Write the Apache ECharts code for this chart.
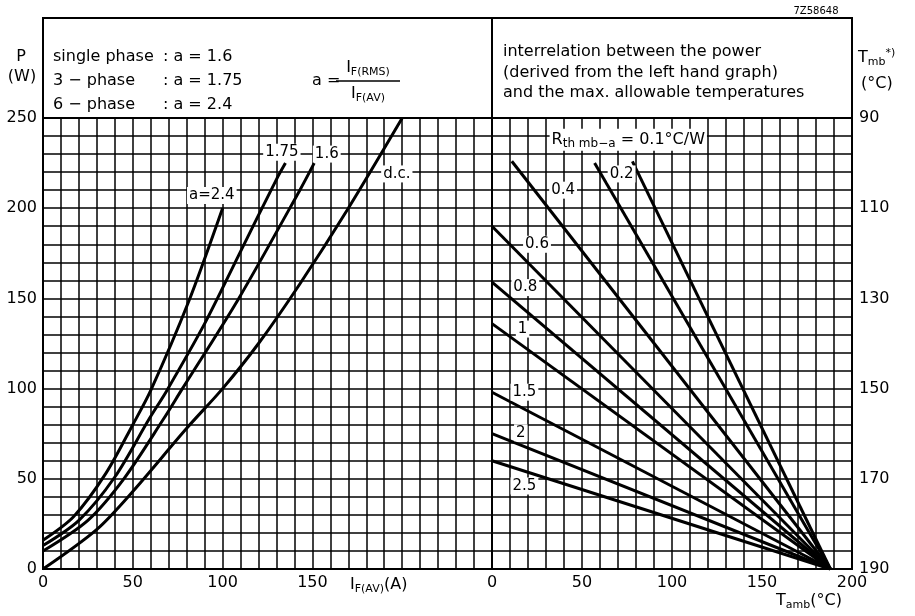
<!DOCTYPE html>
<html><head><meta charset="utf-8">
<script src="https://cdn.jsdelivr.net/npm/echarts@6/dist/echarts.min.js"></script>
<style>html,body{margin:0;padding:0;background:#fff}#c{width:915px;height:616px}</style>
</head><body><div id="c"></div>
<script>
// ---- data (left graph: P vs I_F(AV)) ----
const curve24I = [0, 17, 35, 50, 60, 81, 100];
const curve24P = [16, 29, 53, 80, 99, 148, 200];
const curve175I = [0, 20, 40, 59, 69, 90, 109, 130, 135];
const curve175P = [13, 27, 51, 83, 99, 136, 174, 216, 225];
const curve16I = [0, 25, 45, 67, 77, 109, 143, 151];
const curve16P = [10, 27, 50, 83, 99, 150, 210, 225];
const curveDcI = [0, 30, 50, 80, 100, 120, 143, 170, 200];
const curveDcP = [0, 22, 43, 78, 100, 125, 158, 200, 250];
// ---- data (right graph: P vs T_amb for R_th mb-a) ----
const rthNames = ['0.1', '0.2', '0.4', '0.6', '0.8', '1', '1.5', '2', '2.5'];
const rthStartT = [78, 57, 11, 0, 0, 0, 0, 0, 0];
const rthStartP = [226, 225, 226, 190, 159, 136, 98, 75, 60];
const convergeT = 188;
const convergeP = 0;
// ---- tick labels ----
const leftXTicks = [0, 50, 100, 150];
const rightXTicks = [0, 50, 100, 150, 200];
const pTicks = [0, 50, 100, 150, 200, 250];
const tmbTicks = ['190', '170', '150', '130', '110', '90'];

const FONT = 'DejaVu Sans';
const zip = (a, b) => a.map((v, i) => [v, b[i]]);
const lineStyle = { color: '#000', width: 3 };
const gridLine = { lineStyle: { color: '#000', width: 1.5 } };
const axisLineS = { show: true, lineStyle: { color: '#000', width: 2 } };
const lbl = { color: '#000', fontFamily: FONT, fontSize: 16 };

const series = [];
[[curve24I, curve24P], [curve175I, curve175P], [curve16I, curve16P], [curveDcI, curveDcP]].forEach(([xs, ys]) => {
  series.push({ type: 'line', xAxisIndex: 0, yAxisIndex: 0, data: zip(xs, ys), smooth: 0.3,
    symbol: 'none', lineStyle, z: 5, silent: true });
});
rthNames.forEach((n, i) => {
  series.push({ type: 'line', xAxisIndex: 1, yAxisIndex: 1,
    data: [[rthStartT[i], rthStartP[i]], [convergeT, convergeP]],
    symbol: 'none', lineStyle, z: 5, silent: true });
});
const labelStyle = { show: true, formatter: '{b}', color: '#000', fontFamily: FONT, fontSize: 15,
  backgroundColor: '#fff', padding: [1, 2], position: 'inside', textBorderWidth: 0, textBorderColor: 'transparent', opacity: 1 };
const noEmph = { disabled: true };
series.push({ type: 'scatter', xAxisIndex: 0, yAxisIndex: 0, symbolSize: 0, z: 10, silent: true, emphasis: noEmph,
  itemStyle: { color: '#fff', opacity: 1 },
  label: labelStyle,
  data: [
    { name: 'a=2.4', value: [94, 207] },
    { name: '1.75', value: [133, 231] },
    { name: '1.6', value: [158, 230] },
    { name: 'd.c.', value: [197, 219] }
  ] });
series.push({ type: 'scatter', xAxisIndex: 1, yAxisIndex: 1, symbolSize: 0, z: 10, silent: true, emphasis: noEmph,
  itemStyle: { color: '#fff', opacity: 1 },
  label: labelStyle,
  data: [
    { name: '0.2', value: [72, 219] },
    { name: '0.4', value: [39.5, 210] },
    { name: '0.6', value: [25, 180] },
    { name: '0.8', value: [18.5, 156] },
    { name: '1', value: [17, 133] },
    { name: '1.5', value: [18, 98] },
    { name: '2', value: [16, 75.5] },
    { name: '2.5', value: [18, 46] }
  ] });
series.push({ type: 'scatter', xAxisIndex: 1, yAxisIndex: 1, symbolSize: 0, z: 10, silent: true, emphasis: noEmph,
  itemStyle: { color: '#fff', opacity: 1 },
  label: { show: true, position: 'right', distance: 0, color: '#000', fontFamily: FONT, fontSize: 16,
    backgroundColor: '#fff', padding: [1, 2], textBorderWidth: 0,
    formatter: 'R{s|th mb−a} = 0.1°C/W',
    rich: { s: { fontSize: 12, fontFamily: FONT, color: '#000', padding: [8, 0, 0, 0] } } },
  data: [{ name: 'rth', value: [32, 238] }] });

const T = (text, x, y, extra) => Object.assign({ type: 'text', z: 20, silent: true,
  style: Object.assign({ text, x, y, fill: '#000', font: '16px "' + FONT + '"', textVerticalAlign: 'middle' }, extra || {}) });

const chart = echarts.init(document.getElementById('c'), null, { renderer: 'canvas' });
chart.setOption({
  backgroundColor: '#fff',
  animation: false,
  grid: [
    { left: 43, top: 118, width: 449, height: 451 },
    { left: 492, top: 118, width: 360, height: 451 }
  ],
  xAxis: [
    { type: 'value', gridIndex: 0, min: 0, max: 250, interval: 10, axisLine: axisLineS, axisTick: { show: false },
      splitLine: gridLine, axisLabel: Object.assign({ margin: 6, formatter: v => leftXTicks.includes(v) ? String(v) : '' }, lbl) },
    { type: 'value', gridIndex: 1, min: 0, max: 200, interval: 10, axisLine: axisLineS, axisTick: { show: false },
      splitLine: gridLine, axisLabel: Object.assign({ margin: 6, formatter: v => rightXTicks.includes(v) ? String(v) : '' }, lbl) }
  ],
  yAxis: [
    { type: 'value', gridIndex: 0, min: 0, max: 250, interval: 10, axisLine: axisLineS, axisTick: { show: false },
      splitLine: gridLine, axisLabel: Object.assign({ margin: 6, formatter: v => pTicks.includes(v) ? String(v) : '' }, lbl) },
    { type: 'value', gridIndex: 1, position: 'right', min: 0, max: 250, interval: 10, axisLine: axisLineS, axisTick: { show: false },
      splitLine: gridLine, axisLabel: Object.assign({ margin: 7, formatter: v => pTicks.includes(v) ? tmbTicks[pTicks.indexOf(v)] : '' }, lbl) }
  ],
  series,
  graphic: [
    { type: 'rect', z: 15, silent: true, shape: { x: 43, y: 18, width: 809, height: 551 }, style: { fill: 'none', stroke: '#000', lineWidth: 2 } },
    { type: 'line', z: 15, silent: true, shape: { x1: 492, y1: 18, x2: 492, y2: 569 }, style: { stroke: '#000', lineWidth: 2 } },
    { type: 'line', z: 15, silent: true, shape: { x1: 43, y1: 118, x2: 852, y2: 118 }, style: { stroke: '#000', lineWidth: 2 } },
    T('7Z58648', 816, 11, { font: '10px "' + FONT + '"', textAlign: 'center' }),
    T('P', 21, 57, { textAlign: 'center' }),
    T('(W)', 22, 77, { textAlign: 'center' }),
    T('single phase', 53, 57),
    T(': a = 1.6', 163, 57),
    T('3 − phase', 53, 81),
    T(': a = 1.75', 163, 81),
    T('6 − phase', 53, 105),
    T(': a = 2.4', 163, 105),
    T('a =', 312, 81),
    { type: 'line', z: 20, silent: true, shape: { x1: 336, y1: 81, x2: 400, y2: 81 }, style: { stroke: '#000', lineWidth: 1.5 } },
    T('I{s|F(RMS)}', 368, 68, { textAlign: 'center', rich: { s: { font: '11px "' + FONT + '"', padding: [8, 0, 0, 0] } } }),
    T('I{s|F(AV)}', 368, 94, { textAlign: 'center', rich: { s: { font: '11px "' + FONT + '"', padding: [8, 0, 0, 0] } } }),
    T('interrelation between the power', 503, 52),
    T('(derived from the left hand graph)', 503, 73),
    T('and the max. allowable temperatures', 503, 93),
    T('T{s|mb}{p|*)}', 858, 58, { rich: { s: { font: '11px "' + FONT + '"', padding: [8, 0, 0, 0] }, p: { font: '11px "' + FONT + '"', padding: [0, 0, 10, 0] } } }),
    T('(°C)', 861, 84),
    T('I{s|F(AV)}(A)', 350, 585, { rich: { s: { font: '11px "' + FONT + '"', padding: [8, 0, 0, 0] } } }),
    T('T{s|amb}(°C)', 776, 601, { rich: { s: { font: '11px "' + FONT + '"', padding: [8, 0, 0, 0] } } })
  ]
});
</script></body></html>
